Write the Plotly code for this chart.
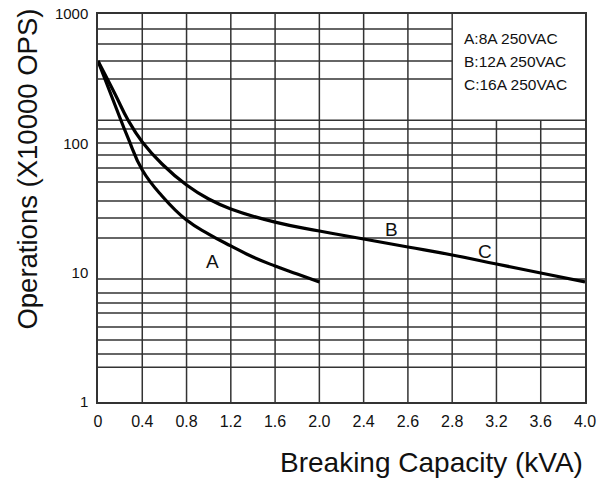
import math
import plotly.graph_objects as go

# ---- data ----
x_labels = ["0", "0.4", "0.8", "1.2", "1.6", "2.0", "2.4", "2.6", "2.8", "3.2", "3.6", "4.0"]
x_grid = list(range(len(x_labels)))  # positions of the printed x grid lines

# curve A (8A 250VAC)
a_x = [0, 0.384, 0.678, 1.0, 1.446, 2.0, 2.5, 3.0, 3.5, 4.0, 4.5, 5.0]
a_y = [433, 198, 110, 62.2, 39.2, 25.5, 19.9, 16.1, 13.2, 11.26, 9.77, 8.47]

# curve B / C (12A / 16A 250VAC)
bc_x = [0, 0.384, 0.678, 1.0, 1.446, 2.0, 2.5, 3.0, 4.0, 5.0, 6.0, 7.0, 8.0, 9.0, 10.0, 11.0]
bc_y = [433, 241, 151.5, 102.4, 69.2, 47.6, 37.1, 31.1, 24.6, 21.0, 18.2, 15.8, 13.7, 11.67, 9.94, 8.47]

# horizontal rule lines of the printed grid
y_grid = [766, 586, 433, 314, 151, 129, 100.6, 81.3, 64.5, 50.2, 35.8, 26.5, 18.5,
          8.93, 6.96, 5.83, 4.88, 3.80, 3.02, 2.35, 1.86]
y_ticks = [1, 10, 100, 1000]
legend_lines = ["A:8A 250VAC", "B:12A 250VAC", "C:16A 250VAC"]

FONT = "Arial, Liberation Sans, Helvetica, sans-serif"
GRID = "#333333"
BOX_LEFT = x_grid[8]      # legend box occupies from this grid column
BOX_BOTTOM = y_grid[4]    # down to this grid row

fig = go.Figure()
for xs, ys in [(a_x, a_y), (bc_x, bc_y)]:
    fig.add_trace(go.Scatter(x=xs, y=ys, mode="lines",
                             line=dict(color="#000", width=3.2, shape="spline", smoothing=1.3),
                             hoverinfo="skip", showlegend=False))

shapes = []
for v in y_grid:
    x1 = BOX_LEFT if v > BOX_BOTTOM else x_grid[-1]
    shapes.append(dict(type="line", xref="x", yref="y", x0=x_grid[0], x1=x1,
                       y0=v, y1=v, line=dict(color=GRID, width=1.5), layer="below"))
for xv in x_grid[1:-1]:
    y1 = BOX_BOTTOM if xv > BOX_LEFT else 1000
    shapes.append(dict(type="line", xref="x", yref="y", x0=xv, x1=xv,
                       y0=1, y1=y1, line=dict(color=GRID, width=1.5), layer="below"))

annotations = []
# curve labels
for txt, xv, yv in [("A", 2.575, 12.3), ("B", 6.62, 21.4), ("C", 8.74, 14.5)]:
    annotations.append(dict(text=txt, x=xv, y=math.log10(yv), xref="x", yref="y",
                            showarrow=False, font=dict(family=FONT, size=19, color="#111")))
# legend box text
for txt, yp in zip(legend_lines, [0.938, 0.877, 0.818]):
    annotations.append(dict(text=txt, x=0.747, y=yp, xref="paper", yref="paper",
                            xanchor="left", yanchor="middle", showarrow=False,
                            font=dict(family=FONT, size=15.5, color="#111")))
# axis titles
annotations.append(dict(text="Breaking Capacity (kVA)", x=1.0, y=-0.155, xref="paper",
                        yref="paper", xanchor="right", yanchor="middle", showarrow=False,
                        font=dict(family=FONT, size=28, color="#111")))
annotations.append(dict(text="Operations (X10000 OPS)", x=-0.145, y=0.6, xref="paper",
                        yref="paper", xanchor="center", yanchor="middle", textangle=-90,
                        showarrow=False, font=dict(family=FONT, size=27.5, color="#111")))

fig.update_layout(
    width=601, height=484,
    margin=dict(l=98, r=16, t=14, b=82, autoexpand=False),
    paper_bgcolor="white", plot_bgcolor="white",
    shapes=shapes, annotations=annotations,
    font=dict(family=FONT, color="#111"),
    xaxis=dict(range=[x_grid[0], x_grid[-1]], tickvals=x_grid, ticktext=x_labels,
               showgrid=False, zeroline=False, showline=True, mirror=True,
               linecolor=GRID, linewidth=1.5, ticks="", ticklabelstandoff=4,
               automargin=False,
               tickfont=dict(family=FONT, size=16, color="#111")),
    yaxis=dict(type="log", range=[0, 3], tickvals=y_ticks,
               ticktext=[str(v) for v in y_ticks],
               showgrid=False, zeroline=False, showline=True, mirror=True,
               linecolor=GRID, linewidth=1.5, ticks="", ticklabelstandoff=5,
               automargin=False,
               tickfont=dict(family=FONT, size=15, color="#111")),
)

fig.write_html("out.html", config={"displayModeBar": False},
               post_script="document.body.style.margin='0';document.body.style.overflow='hidden';")
